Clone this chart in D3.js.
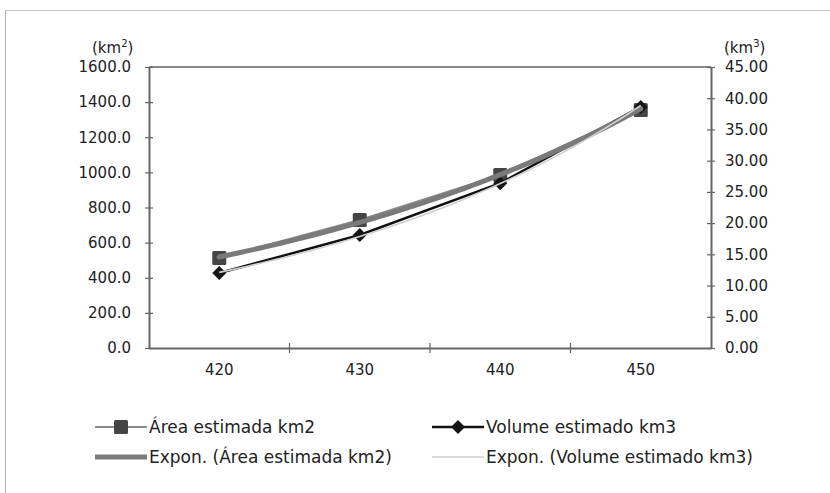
<!DOCTYPE html>
<html><head><meta charset="utf-8">
<script src="https://cdn.jsdelivr.net/npm/d3@7"></script>
<style>body{margin:0;background:#fff}svg{display:block}text{font-family:"DejaVu Sans",sans-serif;fill:#222}</style>
</head><body><svg id="c" width="830" height="493"></svg>
<script>
const categories = ["420", "430", "440", "450"];
const areaValues = [512, 729, 985, 1355];
const volumeValues = [12.0, 18.1, 26.4, 38.6];
const leftTicks = [0, 200, 400, 600, 800, 1000, 1200, 1400, 1600];
const rightTicks = [0, 5, 10, 15, 20, 25, 30, 35, 40, 45];
const legendLabels = ["Área estimada km2", "Volume estimado km3", "Expon. (Área estimada km2)", "Expon. (Volume estimado km3)"];

const svg = d3.select("#c");
const L = 149, R = 711, T = 67, B = 348;
const axisCol = "#666";
const txtCol = "#222";

// outer frame
svg.append("line").attr("x1",5).attr("x2",830).attr("y1",10.5).attr("y2",10.5).attr("stroke","#c4c4c4").attr("stroke-width",1);
svg.append("line").attr("x1",5.5).attr("x2",5.5).attr("y1",10).attr("y2",493).attr("stroke","#b0b0b0").attr("stroke-width",1);

const x = d3.scaleBand().domain(categories).range([L, R]).padding(0);
const yL = d3.scaleLinear().domain([0, 1600]).range([B, T]);
const yR = d3.scaleLinear().domain([0, 45]).range([B, T]);
const xc = c => x(c) + x.bandwidth() / 2;

// plot frame
svg.append("line").attr("x1",L).attr("x2",R).attr("y1",T).attr("y2",T).attr("stroke","#8a8a8a").attr("stroke-width",2);

// left axis
const gL = svg.append("g").attr("transform",`translate(${L},0)`)
  .call(d3.axisLeft(yL).tickValues(leftTicks).tickFormat(d3.format(".1f")).tickSizeInner(4).tickSizeOuter(0).tickPadding(14));
gL.select(".domain").attr("stroke",axisCol).attr("stroke-width",2);
gL.selectAll(".tick line").attr("stroke",axisCol).attr("stroke-width",1.2).attr("x1",4);
gL.selectAll(".tick text").attr("font-size",15).attr("font-family","DejaVu Sans").attr("fill",txtCol);

// right axis
const gR = svg.append("g").attr("transform",`translate(${R},0)`)
  .call(d3.axisRight(yR).tickValues(rightTicks).tickFormat(d3.format(".2f")).tickSizeInner(4).tickSizeOuter(0).tickPadding(10));
gR.select(".domain").attr("stroke",axisCol).attr("stroke-width",2);
gR.selectAll(".tick line").attr("stroke",axisCol).attr("stroke-width",1.2).attr("x1",-4);
gR.selectAll(".tick text").attr("font-size",15).attr("font-family","DejaVu Sans").attr("fill",txtCol);

// bottom axis
const gB = svg.append("g").attr("transform",`translate(0,${B})`)
  .call(d3.axisBottom(x).tickSize(0).tickPadding(16));
gB.select(".domain").attr("stroke",axisCol).attr("stroke-width",2);
gB.selectAll(".tick text").attr("font-size",15).attr("font-family","DejaVu Sans").attr("fill",txtCol);
// category boundary ticks
const bounds = categories.slice(1).map(c => x(c));
svg.append("g").selectAll("line").data(bounds).join("line")
  .attr("x1",d=>d).attr("x2",d=>d).attr("y1",B-5).attr("y2",B+5).attr("stroke",axisCol).attr("stroke-width",1.2);

// axis unit labels
const u1 = svg.append("text").attr("x",92).attr("y",53).attr("font-size",15);
u1.append("tspan").text("(km");
u1.append("tspan").attr("font-size",10).attr("dy",-6).text("2");
u1.append("tspan").attr("dy",6).text(")");
const u2 = svg.append("text").attr("x",724).attr("y",53).attr("font-size",15);
u2.append("tspan").text("(km");
u2.append("tspan").attr("font-size",10).attr("dy",-6).text("3");
u2.append("tspan").attr("dy",6).text(")");

// exponential fit (Excel-style, x = 1..n)
function expFit(vals){
  const xs = vals.map((_,i)=>i+1); const ly = vals.map(v=>Math.log(v));
  const mx = d3.mean(xs), my = d3.mean(ly);
  const b = d3.sum(xs.map((xv,i)=>(xv-mx)*(ly[i]-my))) / d3.sum(xs.map(xv=>(xv-mx)**2));
  const a = Math.exp(my - b*mx);
  return t => a*Math.exp(b*t);
}
const idx = d3.scaleLinear().domain([1, categories.length]).range([xc(categories[0]), xc(categories[categories.length-1])]);
const samples = d3.range(0, 61).map(i => 1 + i*(categories.length-1)/60);

const lineA = d3.line().x((d,i)=>xc(categories[i])).y(d=>yL(d));
const lineV = d3.line().x((d,i)=>xc(categories[i])).y(d=>yR(d));

const diamondPath = "M0,-7L7,0L0,7L-7,0Z";

// area series
svg.append("path").datum(areaValues).attr("d",lineA).attr("fill","none").attr("stroke","#8a8a8a").attr("stroke-width",2);
svg.append("g").selectAll("rect").data(areaValues).join("rect")
  .attr("x",(d,i)=>xc(categories[i])-7).attr("y",d=>yL(d)-7).attr("width",14).attr("height",14).attr("rx",1.5)
  .attr("fill","#444");
// volume series
svg.append("path").datum(volumeValues).attr("d",lineV).attr("fill","none").attr("stroke","#111").attr("stroke-width",2.5);
svg.append("g").selectAll("path").data(volumeValues).join("path")
  .attr("d",diamondPath).attr("transform",(d,i)=>`translate(${xc(categories[i])},${yR(d)})`).attr("fill","#151515");

// trendlines
const fA = expFit(areaValues), fV = expFit(volumeValues);
svg.append("path").datum(samples).attr("d", d3.line().x(t=>idx(t)).y(t=>yL(fA(t))))
  .attr("fill","none").attr("stroke","#7a7a7a").attr("stroke-width",5).attr("stroke-linecap","round");
svg.append("path").datum(samples).attr("d", d3.line().x(t=>idx(t)).y(t=>yR(fV(t))))
  .attr("fill","none").attr("stroke","#cfcfcf").attr("stroke-width",1.6);

// legend
const lg = svg.append("g");
const cols = [95, 432], rows = [427, 457], lineW = 52;
const items = [
  {c:0,r:0,type:"area"},{c:1,r:0,type:"vol"},{c:0,r:1,type:"trendA"},{c:1,r:1,type:"trendV"}
];
items.forEach((it,k)=>{
  const x0 = cols[it.c], y0 = rows[it.r];
  if(it.type==="area"){
    lg.append("line").attr("x1",x0).attr("x2",x0+lineW).attr("y1",y0).attr("y2",y0).attr("stroke","#8a8a8a").attr("stroke-width",2);
    lg.append("rect").attr("x",x0+lineW/2-7).attr("y",y0-7).attr("width",14).attr("height",14).attr("rx",1.5).attr("fill","#444");
  } else if(it.type==="vol"){
    lg.append("line").attr("x1",x0).attr("x2",x0+lineW).attr("y1",y0).attr("y2",y0).attr("stroke","#111").attr("stroke-width",2.5);
    lg.append("path").attr("d",diamondPath).attr("transform",`translate(${x0+lineW/2},${y0})`).attr("fill","#151515");
  } else if(it.type==="trendA"){
    lg.append("line").attr("x1",x0).attr("x2",x0+lineW).attr("y1",y0).attr("y2",y0).attr("stroke","#7a7a7a").attr("stroke-width",5);
  } else {
    lg.append("line").attr("x1",x0).attr("x2",x0+lineW).attr("y1",y0).attr("y2",y0).attr("stroke","#cfcfcf").attr("stroke-width",1.6);
  }
  lg.append("text").attr("x",x0+lineW+2).attr("y",y0).attr("dy","0.36em").attr("font-size",17).attr("fill",txtCol).text(legendLabels[k]);
});
</script></body></html>
